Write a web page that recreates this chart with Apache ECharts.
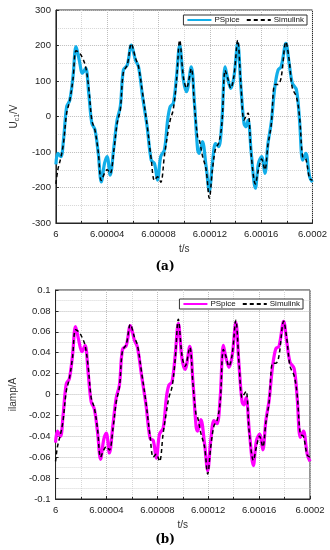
<!DOCTYPE html>
<html>
<head>
<meta charset="utf-8">
<script src="https://cdn.jsdelivr.net/npm/echarts@6/dist/echarts.min.js"></script>
<style>
html,body{margin:0;padding:0;background:#fff;}
#a{position:absolute;left:0;top:0;width:330px;height:275px;}
#b{position:absolute;left:0;top:275px;width:330px;height:275px;}
</style>
</head>
<body>
<div id="a"></div>
<div id="b"></div>
<script>
// time in microseconds after t = 6 s
var timeUs = [0,1.5,3.9,5.9,8.4,10.8,13.3,15.7,18.2,20.7,23.2,25.6,28,30.5,33,35.4,37.9,39.9,42.3,45.2,47.7,50.2,52.6,55.6,58.8,62,64.4,67.4,71.1,74.3,76.8,79.2,81.7,84.6,87.1,89.1,91.5,94,96.5,99.4,101.8,105.5,108,110.5,111.7,114.2,117.1,119.6,122,124.5,126.9,129.4,131.9,133.8,136.3,138.8,141.7,144.2,146.6,148.1,149.8,152.3,155.5,157.9,160.4,162.9,165.3,167.8,170.7,173.2,175.6,179.3,181.8,184.3,187.5,189.9,192.4,194.8,197.8,200];

var ucPSpice = [-135,-104,-113,-66,28,46,112,197,159,122,136,65,-19,-38,-104,-184,-132,-113,-165,-85,-10,28,131,145,201,159,140,60,-29,-123,-132,-179,-113,-94,-10,28,37,112,201,103,70,140,37,-94,-104,-71,-141,-210,-132,-76,-85,-10,140,108,79,112,206,84,-19,-29,-10,-104,-202,-132,-113,-160,-76,-19,84,131,140,206,150,94,75,-10,-123,-104,-170,-185];
var ucSimulink = [-190,-150,-115,-75,10,45,105,185,180,165,140,80,-10,-40,-100,-180,-160,-150,-160,-95,-20,20,125,145,205,165,140,70,-25,-120,-180,-170,-185,-110,-50,-10,20,100,215,110,80,135,30,-60,-65,-110,-150,-230,-150,-90,-75,-20,130,110,80,115,215,90,-10,0,10,-110,-190,-150,-120,-150,-80,-25,90,90,110,210,160,80,55,0,-115,-120,-175,-180];

var ilPSpice = [-0.046,-0.035,-0.040,-0.020,0.010,0.015,0.037,0.065,0.052,0.041,0.047,0.021,-0.007,-0.014,-0.036,-0.062,-0.043,-0.037,-0.056,-0.028,-0.003,0.009,0.043,0.047,0.066,0.052,0.045,0.020,-0.010,-0.042,-0.044,-0.061,-0.038,-0.032,-0.003,0.009,0.012,0.037,0.068,0.034,0.024,0.046,0.012,-0.031,-0.035,-0.024,-0.047,-0.073,-0.044,-0.025,-0.028,-0.003,0.047,0.036,0.026,0.037,0.069,0.028,-0.007,-0.010,-0.003,-0.035,-0.068,-0.044,-0.038,-0.053,-0.025,-0.006,0.028,0.044,0.046,0.070,0.050,0.031,0.025,-0.003,-0.041,-0.035,-0.057,-0.064];
var ilSimulink = [-0.064,-0.050,-0.038,-0.025,0.003,0.015,0.035,0.062,0.060,0.055,0.047,0.027,-0.003,-0.013,-0.033,-0.060,-0.053,-0.050,-0.053,-0.032,-0.007,0.007,0.042,0.048,0.067,0.055,0.047,0.023,-0.008,-0.040,-0.060,-0.057,-0.064,-0.037,-0.017,-0.003,0.007,0.033,0.072,0.037,0.027,0.045,0.010,-0.020,-0.022,-0.037,-0.050,-0.076,-0.050,-0.030,-0.025,-0.007,0.043,0.037,0.027,0.038,0.071,0.030,-0.003,0.000,0.003,-0.037,-0.063,-0.050,-0.040,-0.050,-0.027,-0.008,0.030,0.030,0.037,0.070,0.053,0.027,0.018,0.000,-0.038,-0.040,-0.058,-0.060];

var xTickLabels = ['6','6.00004','6.00008','6.00012','6.00016','6.0002'];
var yTickLabelsA = ['-300','-200','-100','0','100','200','300'];
var yTickLabelsB = ['-0.1','-0.08','-0.06','-0.04','-0.02','0','0.02','0.04','0.06','0.08','0.1'];
var seriesNames = ['PSpice','Simulink'];

function pairs(xs, ys){ return xs.map(function(x,i){ return [x, ys[i]]; }); }

var FONT = 'Liberation Sans';
var AXC = '#262626';

function makeOption(cfg){
  return {
    animation:false,
    backgroundColor:'#fff',
    textStyle:{fontFamily:FONT},
    title:{text:cfg.title,left:'center',top:cfg.titleTop,
      textStyle:{fontFamily:'DejaVu Serif',fontWeight:'bold',fontSize:12,color:'#000'}},
    legend:{
      data:seriesNames, right:cfg.legRight, top:cfg.legTop, orient:'horizontal',
      itemWidth:24, itemHeight:8, itemGap:6, padding:[1,3,1,3],
      borderColor:'#333', borderWidth:1, backgroundColor:'#fff',
      itemStyle:{opacity:0, borderWidth:0},
      textStyle:{fontSize:8,color:'#111',fontFamily:FONT,padding:[0,0,0,-2]}
    },
    grid:{left:cfg.left, right:cfg.right, top:cfg.top, height:cfg.height,
      show:true, borderColor:AXC, borderWidth:1},
    xAxis:{
      type:'value', min:0, max:200, interval:40,
      name:'t/s', nameLocation:'middle', nameGap:cfg.xNameGap,
      nameTextStyle:{fontSize:10,color:'#333'},
      axisLine:{show:true,onZero:false,lineStyle:{color:AXC}},
      axisTick:{inside:true,length:3,lineStyle:{color:AXC}},
      minorTick:{show:true,splitNumber:2,length:2,lineStyle:{color:AXC}},
      axisLabel:{fontSize:9.5,color:'#222',margin:6,
        formatter:function(v){ return xTickLabels[Math.round(v/40)]; }},
      splitLine:{show:true,lineStyle:{color:'#bdbdbd',type:'dotted',width:1}},
      minorSplitLine:{show:true,lineStyle:{color:'#d6d6d6',type:'dotted',width:1}}
    },
    yAxis:{
      type:'value', min:cfg.ymin, max:cfg.ymax, interval:cfg.yint,
      name:cfg.yName, nameLocation:'middle', nameGap:cfg.yNameGap,
      nameTextStyle:cfg.yNameStyle,
      axisLine:{show:true,lineStyle:{color:AXC}},
      axisTick:{inside:true,length:3,lineStyle:{color:AXC}},
      axisLabel:{fontSize:9.5,color:'#222',margin:5,
        formatter:function(v){ return cfg.yLabels[Math.round((v-cfg.ymin)/cfg.yint)]; }},
      splitLine:{show:true,lineStyle:{color:'#bdbdbd',type:'dotted',width:1}},
      minorSplitLine:{show:true,lineStyle:{color:'#d6d6d6',type:'dotted',width:1}},
      minorTick:{show:false,splitNumber:2}
    },
    series:[
      {name:seriesNames[0], type:'line', data:pairs(timeUs,cfg.s1), symbol:'none',
        smooth:0.35, lineStyle:{color:cfg.color,width:3.2}, itemStyle:{color:cfg.color}, z:2},
      {name:seriesNames[1], type:'line', data:pairs(timeUs,cfg.s2), symbol:'none',
        smooth:0.35, lineStyle:{color:'#000',width:1.5,type:[4,3]}, itemStyle:{color:'#000'}, z:3}
    ]
  };
}

var chartA = echarts.init(document.getElementById('a'));
chartA.setOption(makeOption({
  title:'(a)', titleTop:256,
  legRight:23, legTop:15,
  left:42, right:17, top:10, height:213,
  xNameGap:14,
  ymin:-300, ymax:300, yint:100, yLabels:yTickLabelsA,
  yName:'{a|U}{s|c1}{a|/V}', yNameGap:27,
  yNameStyle:{rich:{a:{fontSize:10,color:'#333',fontFamily:FONT,lineHeight:14},
                    s:{fontSize:7,color:'#333',fontFamily:FONT,lineHeight:14,padding:[6,0,0,0]}}},
  s1:ucPSpice, s2:ucSimulink, color:'#12aee9'
}));

var chartB = echarts.init(document.getElementById('b'));
chartB.setOption(makeOption({
  title:'(b)', titleTop:254,
  legRight:27, legTop:24,
  left:44, right:20, top:15, height:209,
  xNameGap:14,
  ymin:-0.1, ymax:0.1, yint:0.02, yLabels:yTickLabelsB,
  yName:'ilamp/A', yNameGap:29,
  yNameStyle:{fontSize:10,color:'#333'},
  s1:ilPSpice, s2:ilSimulink, color:'#ff00ff'
}));
</script>
</body>
</html>
